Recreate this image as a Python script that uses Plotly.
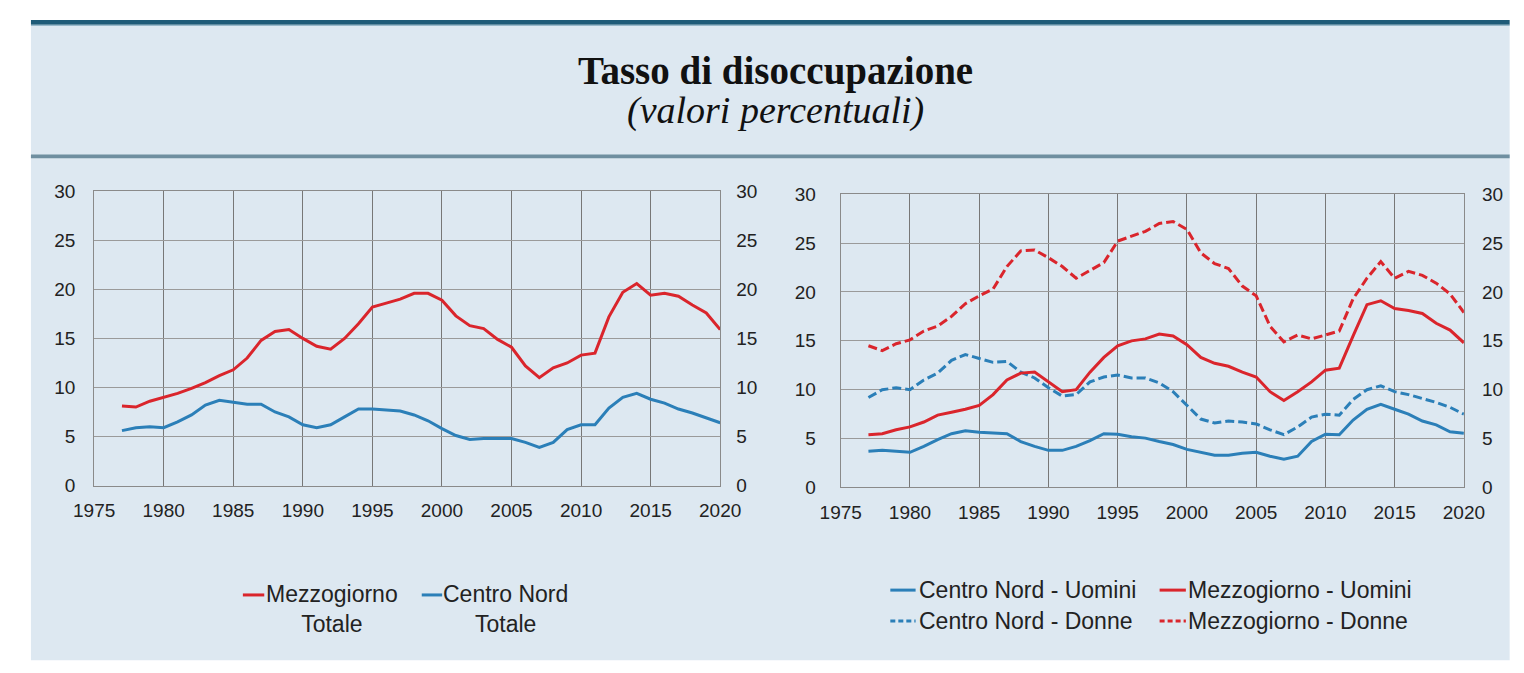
import plotly.graph_objects as go

# page is 1524x673; the browser body keeps an 8px margin, so the figure is
# sized to fit inside it and all positions are given in page pixels.
PAGE_W, PAGE_H = 1524, 673
OX, OY = 8, 8
W, H = PAGE_W - 2 * OX, PAGE_H - 2 * OY

years = list(range(1977, 2021))

# Left chart: totals
mezzogiorno_totale = [8.1, 8.0, 8.6, 9.0, 9.4, 9.9, 10.5, 11.2, 11.8, 13.0,
                      14.8, 15.7, 15.9, 15.0, 14.2, 13.9, 15.0, 16.5, 18.2, 18.6,
                      19.0, 19.6, 19.6, 18.9, 17.3, 16.3, 16.0, 14.9, 14.1, 12.2,
                      11.0, 12.0, 12.5, 13.3, 13.5, 17.2, 19.7, 20.6, 19.4, 19.6,
                      19.3, 18.4, 17.6, 15.9]
centro_nord_totale = [5.6, 5.9, 6.0, 5.9, 6.5, 7.2, 8.2, 8.7, 8.5, 8.3,
                      8.3, 7.5, 7.0, 6.2, 5.9, 6.2, 7.0, 7.8, 7.8, 7.7,
                      7.6, 7.2, 6.6, 5.8, 5.1, 4.7, 4.8, 4.8, 4.8, 4.4,
                      3.9, 4.4, 5.7, 6.2, 6.2, 7.9, 9.0, 9.4, 8.8, 8.4,
                      7.8, 7.4, 6.9, 6.4]

# Right chart: by gender
centro_nord_uomini = [3.7, 3.8, 3.7, 3.6, 4.2, 4.9, 5.5, 5.8, 5.65, 5.55,
                      5.5, 4.7, 4.2, 3.8, 3.8, 4.2, 4.8, 5.5, 5.45, 5.2,
                      5.05, 4.7, 4.4, 3.9, 3.6, 3.3, 3.3, 3.5, 3.6, 3.2,
                      2.9, 3.2, 4.7, 5.45, 5.4, 6.9, 8.0, 8.5, 8.0, 7.5,
                      6.8, 6.4, 5.7, 5.55]
mezzogiorno_uomini = [5.4, 5.5, 5.9, 6.2, 6.7, 7.4, 7.7, 8.0, 8.4, 9.5,
                      11.0, 11.7, 11.8, 10.8, 9.8, 10.0, 11.8, 13.3, 14.5, 15.0,
                      15.2, 15.7, 15.5, 14.6, 13.3, 12.7, 12.4, 11.8, 11.3, 9.8,
                      8.9, 9.8, 10.8, 12.0, 12.2, 15.5, 18.7, 19.1, 18.3, 18.1,
                      17.8, 16.8, 16.1, 14.8]
centro_nord_donne = [9.2, 10.0, 10.2, 10.0, 11.0, 11.7, 13.0, 13.6, 13.2, 12.8,
                     12.9, 11.8, 11.2, 10.2, 9.35, 9.5, 10.8, 11.3, 11.5, 11.2,
                     11.2, 10.7, 9.8, 8.4, 7.0, 6.6, 6.8, 6.7, 6.5, 5.9,
                     5.4, 6.2, 7.2, 7.5, 7.4, 9.0, 10.0, 10.4, 9.8, 9.5,
                     9.1, 8.7, 8.2, 7.5]
mezzogiorno_donne = [14.5, 14.0, 14.7, 15.1, 16.0, 16.5, 17.5, 18.8, 19.6, 20.3,
                     22.6, 24.2, 24.3, 23.5, 22.6, 21.4, 22.2, 23.0, 25.2, 25.7,
                     26.2, 27.0, 27.2, 26.4, 24.0, 22.9, 22.4, 20.6, 19.6, 16.5,
                     14.9, 15.6, 15.2, 15.6, 16.0, 19.3, 21.4, 23.1, 21.4, 22.1,
                     21.7, 20.9, 19.8, 17.9]

x_ticks = list(range(1975, 2021, 5))
y_ticks = list(range(0, 31, 5))

title = "Tasso di disoccupazione"
subtitle = "(valori percentuali)"

RED = "#da252c"
BLUE = "#2b7fb8"
BG = "#dde8f1"
FONT = "Liberation Sans, Arial, sans-serif"
SERIF = "Liberation Serif, Times New Roman, serif"


def px(x):
    return (x - OX) / W


def py(y):
    return 1 - (y - OY) / H


fig = go.Figure()

# left chart
fig.add_trace(go.Scatter(x=years, y=mezzogiorno_totale, mode="lines",
                         line=dict(color=RED, width=3), xaxis="x", yaxis="y",
                         showlegend=False))
fig.add_trace(go.Scatter(x=years, y=centro_nord_totale, mode="lines",
                         line=dict(color=BLUE, width=3), xaxis="x", yaxis="y",
                         showlegend=False))
# right chart
fig.add_trace(go.Scatter(x=years, y=mezzogiorno_donne, mode="lines",
                         line=dict(color=RED, width=3, dash="9px,4px"),
                         xaxis="x2", yaxis="y2", showlegend=False))
fig.add_trace(go.Scatter(x=years, y=centro_nord_donne, mode="lines",
                         line=dict(color=BLUE, width=3, dash="9px,4px"),
                         xaxis="x2", yaxis="y2", showlegend=False))
fig.add_trace(go.Scatter(x=years, y=mezzogiorno_uomini, mode="lines",
                         line=dict(color=RED, width=3),
                         xaxis="x2", yaxis="y2", showlegend=False))
fig.add_trace(go.Scatter(x=years, y=centro_nord_uomini, mode="lines",
                         line=dict(color=BLUE, width=3),
                         xaxis="x2", yaxis="y2", showlegend=False))
# invisible traces to carry the right-hand axes
fig.add_trace(go.Scatter(x=years, y=mezzogiorno_totale, mode="lines", opacity=0,
                         hoverinfo="skip", xaxis="x", yaxis="y3", showlegend=False))
fig.add_trace(go.Scatter(x=years, y=mezzogiorno_donne, mode="lines", opacity=0,
                         hoverinfo="skip", xaxis="x2", yaxis="y4", showlegend=False))

tickfont = dict(family=FONT, size=19, color="#222")

xcommon = dict(range=[1975, 2020], tickvals=x_ticks, showgrid=True,
               gridcolor="#777777", gridwidth=1, ticks="", showline=True,
               linecolor="#8a8a8a", linewidth=1, mirror=True, zeroline=False,
               tickfont=tickfont, ticklabelstandoff=8, fixedrange=True)
ycommon = dict(range=[0, 30], tickvals=y_ticks, showgrid=True,
               gridcolor="#9a9a9a", gridwidth=1, ticks="", showline=True,
               linecolor="#8a8a8a", linewidth=1, mirror=True, zeroline=False,
               tickfont=tickfont, fixedrange=True)
yright = dict(range=[0, 30], tickvals=y_ticks, showgrid=False, ticks="",
              showline=False, zeroline=False, tickfont=tickfont,
              side="right", fixedrange=True)

fig.update_layout(
    width=W, height=H,
    margin=dict(l=0, r=0, t=0, b=0),
    paper_bgcolor="white",
    plot_bgcolor="white",
    showlegend=False,
    xaxis=dict(domain=[px(75), px(719)], anchor="y", **xcommon),
    yaxis=dict(domain=[py(491), py(187)], anchor="x", ticklabelstandoff=14, **ycommon),
    yaxis3=dict(overlaying="y", anchor="x", ticklabelstandoff=15, **yright),
    xaxis2=dict(domain=[px(843), px(1484)], anchor="y2", **xcommon),
    yaxis2=dict(domain=[py(493), py(190)], anchor="x2", ticklabelstandoff=20, **ycommon),
    yaxis4=dict(overlaying="y2", anchor="x2", ticklabelstandoff=17, **yright),
)

shapes = [
    dict(type="rect", xref="paper", yref="paper", x0=px(10), x1=1.01, y0=-0.01, y1=py(15),
         fillcolor=BG, line_width=0, layer="below"),
    dict(type="rect", xref="paper", yref="paper", x0=px(10), x1=1.01, y0=py(15), y1=py(10),
         fillcolor="#1e5b78", line_width=0, layer="below"),
    dict(type="rect", xref="paper", yref="paper", x0=px(10), x1=1.01, y0=py(16), y1=py(15),
         fillcolor="#7fa8bd", line_width=0, layer="below"),
    dict(type="rect", xref="paper", yref="paper", x0=px(10), x1=1.01, y0=py(153), y1=py(149),
         fillcolor="#6f8fa0", line_width=0, layer="below"),
]


def seg(x0, x1, y, color, dash="solid"):
    return dict(type="line", xref="paper", yref="paper", x0=px(x0), x1=px(x1),
                y0=py(y), y1=py(y), line=dict(color=color, width=3, dash=dash))


# legend samples
shapes += [
    seg(228, 250, 604, RED),
    seg(412, 433, 604, BLUE),
    seg(894, 920, 599, BLUE),
    seg(1171, 1198, 599, RED),
    seg(894, 920, 631, BLUE, "5px,3px"),
    seg(1171, 1198, 631, RED, "5px,3px"),
]
fig.update_layout(shapes=shapes)

legfont = dict(family=FONT, size=23, color="#222")
ann = [
    dict(text="<b>" + title + "</b>", x=px(776), y=py(63), xref="paper", yref="paper",
         xanchor="center", yanchor="middle", showarrow=False,
         font=dict(family=SERIF, size=39, color="#111")),
    dict(text="<i>" + subtitle + "</i>", x=px(776), y=py(104), xref="paper", yref="paper",
         xanchor="center", yanchor="middle", showarrow=False,
         font=dict(family=SERIF, size=38, color="#111")),
    dict(text="Mezzogiorno<br>Totale", x=px(320), y=py(618), xref="paper", yref="paper",
         xanchor="center", yanchor="middle", align="center", showarrow=False, font=legfont),
    dict(text="Centro Nord<br>Totale", x=px(498), y=py(618), xref="paper", yref="paper",
         xanchor="center", yanchor="middle", align="center", showarrow=False, font=legfont),
    dict(text="Centro Nord - Uomini", x=px(921), y=py(599), xref="paper", yref="paper",
         xanchor="left", yanchor="middle", showarrow=False, font=legfont),
    dict(text="Mezzogiorno - Uomini", x=px(1198), y=py(599), xref="paper", yref="paper",
         xanchor="left", yanchor="middle", showarrow=False, font=legfont),
    dict(text="Centro Nord - Donne", x=px(921), y=py(631), xref="paper", yref="paper",
         xanchor="left", yanchor="middle", showarrow=False, font=legfont),
    dict(text="Mezzogiorno - Donne", x=px(1198), y=py(631), xref="paper", yref="paper",
         xanchor="left", yanchor="middle", showarrow=False, font=legfont),
]
fig.update_layout(annotations=ann)

fig.write_html("out.html")
